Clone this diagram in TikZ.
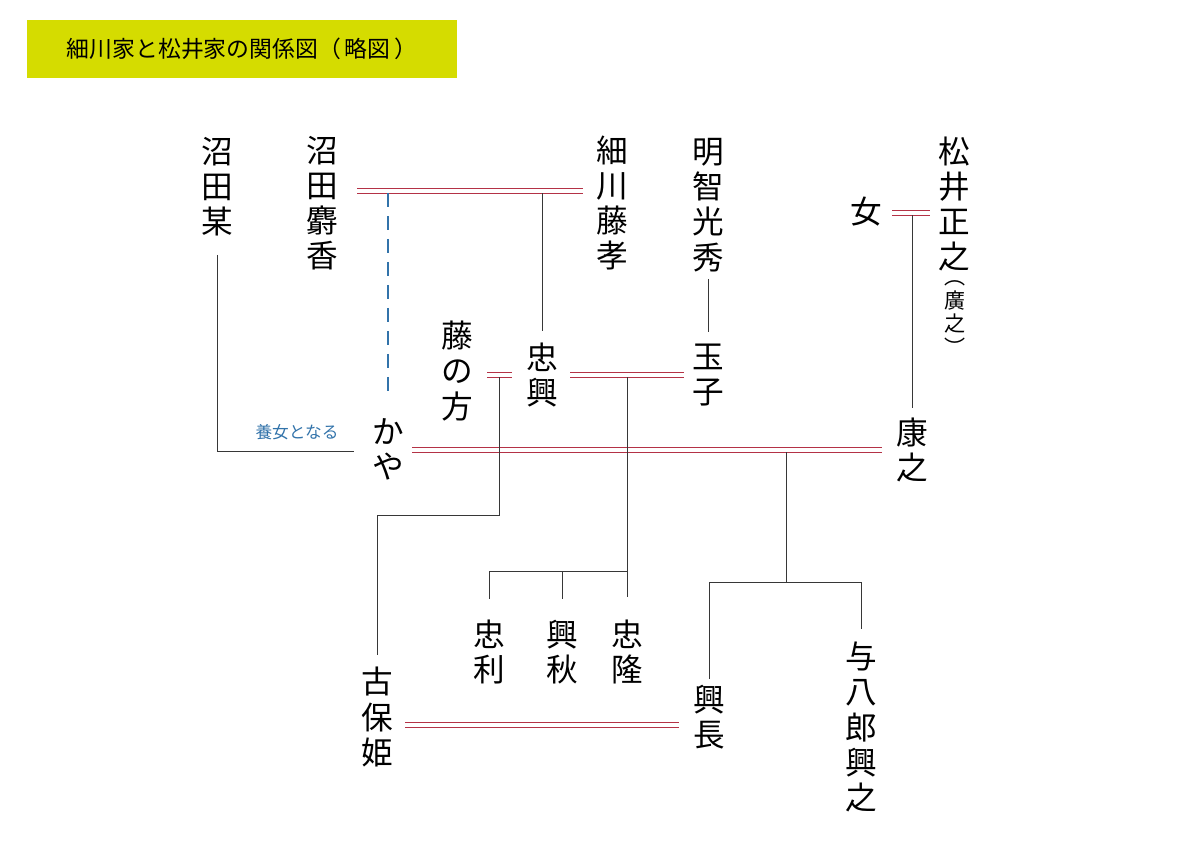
\documentclass[tikz,border=0pt]{standalone}
\usepackage{fontspec}
\setmainfont{Noto Sans CJK JP}
\definecolor{kinred}{RGB}{180,50,70}
\definecolor{kinblue}{RGB}{50,115,170}
\definecolor{kinline}{RGB}{55,55,55}
\definecolor{titlebg}{RGB}{213,220,0}

\begin{document}
\begin{tikzpicture}[x=0.02cm,y=-0.02cm,
        person/.style={align=center,inner sep=0pt,font=\fontsize{18pt}{20pt}\selectfont},
        kin/.style={draw=kinline,line width=0.5pt},
        wed/.style={draw=kinred,line width=0.5pt},
        adopt/.style={draw=kinblue,line width=0.6pt,dash pattern=on 0.28cm off 0.18cm}]
            \useasboundingbox (0,0) rectangle (1200,849);

            \node[fill=titlebg,minimum width=8.6cm,minimum height=1.16cm,inner sep=0pt,font=\fontsize{13pt}{15pt}\selectfont] (Title) at (242,49) {細川家と松井家の関係図（\,略図\,）};

            \node[person] (Bo) at (217,187) {沼\\田\\某};
            \node[person] (Jako) at (322,203) {沼\\田\\麝\\香};
            \node[person] (Fujitaka) at (612,203) {細\\川\\藤\\孝};
            \node[person] (Mitsuhide) at (708,205) {明\\智\\光\\秀};
            \node[person] (Masayuki) at (954,204) {松\\井\\正\\之};
            \node[align=center,inner sep=0pt,font=\fontsize{12pt}{13.5pt}\selectfont] (Hiroyuki) at (955,318) {︵\\廣\\之\\︶};
            \node[person] (Onna) at (866,212) {女};
            \node[person] (Fujinokata) at (457,371) {藤\\の\\方};
            \node[person] (Tadaoki) at (542,375) {忠\\興};
            \node[person] (Tamako) at (708,375) {玉\\子};
            \node[person] (Kaya) at (388,449) {か\\や};
            \node[person] (Yasuyuki) at (912,450) {康\\之};
            \node[font=\fontsize{9.5pt}{11pt}\selectfont,text=kinblue,inner sep=0pt] (Yoshijo) at (297,432) {養女となる};
            \node[person] (Tadatoshi) at (489,652) {忠\\利};
            \node[person] (Okiaki) at (562,652) {興\\秋};
            \node[person] (Tadataka) at (627,652) {忠\\隆};
            \node[person] (Kohohime) at (377,717) {古\\保\\姫};
            \node[person] (Okinaga) at (709,717) {興\\長};
            \node[person] (Yohachiro) at (861,727) {与\\八\\郎\\興\\之};

            \coordinate (wedA) at (542,190.5);
            \coordinate (wedB) at (912,212.5);
            \coordinate (wedC) at (499,374.5);
            \coordinate (wedD) at (627,374.5);
            \coordinate (wedE) at (786,449.5);
            \coordinate (wedF) at (540,724.5);
            \coordinate (bendC) at (377,515);
            \coordinate (sibD) at (627,571);
            \coordinate (sibE) at (786,582);

            \foreach \s in {-0.05,0.05} {
                \draw[wed,shorten <=0.38cm,shorten >=0.26cm] ([yshift=\s cm]Jako.east |- wedA) -- ([yshift=\s cm]Fujitaka.west |- wedA);
                \draw[wed,shorten <=0.2cm,shorten >=0.16cm] ([yshift=\s cm]Onna.east |- wedB) -- ([yshift=\s cm]Masayuki.west |- wedB);
                \draw[wed,shorten <=0.28cm,shorten >=0.28cm] ([yshift=\s cm]Fujinokata.east |- wedC) -- ([yshift=\s cm]Tadaoki.west |- wedC);
                \draw[wed,shorten <=0.24cm,shorten >=0.16cm] ([yshift=\s cm]Tadaoki.east |- wedD) -- ([yshift=\s cm]Tamako.west |- wedD);
                \draw[wed,shorten <=0.16cm,shorten >=0.28cm] ([yshift=\s cm]Kaya.east |- wedE) -- ([yshift=\s cm]Yasuyuki.west |- wedE);
                \draw[wed,shorten <=0.24cm,shorten >=0.28cm] ([yshift=\s cm]Kohohime.east |- wedF) -- ([yshift=\s cm]Okinaga.west |- wedF);
            }

            \draw[adopt,shorten <=0.05cm,shorten >=0.46cm] (Kaya.north |- wedA) -- (Kaya.north);
            \draw[kin,shorten <=0.36cm,shorten >=0.36cm] (Bo.south) |- ([yshift=-0.05cm]Kaya.west);
            \draw[kin,shorten <=0.05cm,shorten >=0.24cm] (wedA) -- (Tadaoki.north);
            \draw[kin,shorten <=0.14cm,shorten >=0.24cm] (Mitsuhide.south) -- (Tamako.north);
            \draw[kin,shorten <=0.05cm,shorten >=0.2cm] (wedB) -- (Yasuyuki.north);
            \draw[kin,shorten <=0.05cm,shorten >=0.24cm] (wedC) -- (wedC |- bendC) -| (Kohohime.north);
            \draw[kin,shorten <=0.05cm,shorten >=0.46cm] (wedD) -- (Tadataka.north);
            \draw[kin,shorten >=0.42cm] (sibD) -| (Tadatoshi.north);
            \draw[kin,shorten >=0.42cm] (sibD -| Okiaki) -- (Okiaki.north);
            \draw[kin,shorten <=0.05cm] (wedE) -- (sibE);
            \draw[kin,shorten >=0.12cm] (sibE) -| (Okinaga.north);
            \draw[kin,shorten >=0.26cm] (sibE) -| (Yohachiro.north);

        \end{tikzpicture}
\end{document}
